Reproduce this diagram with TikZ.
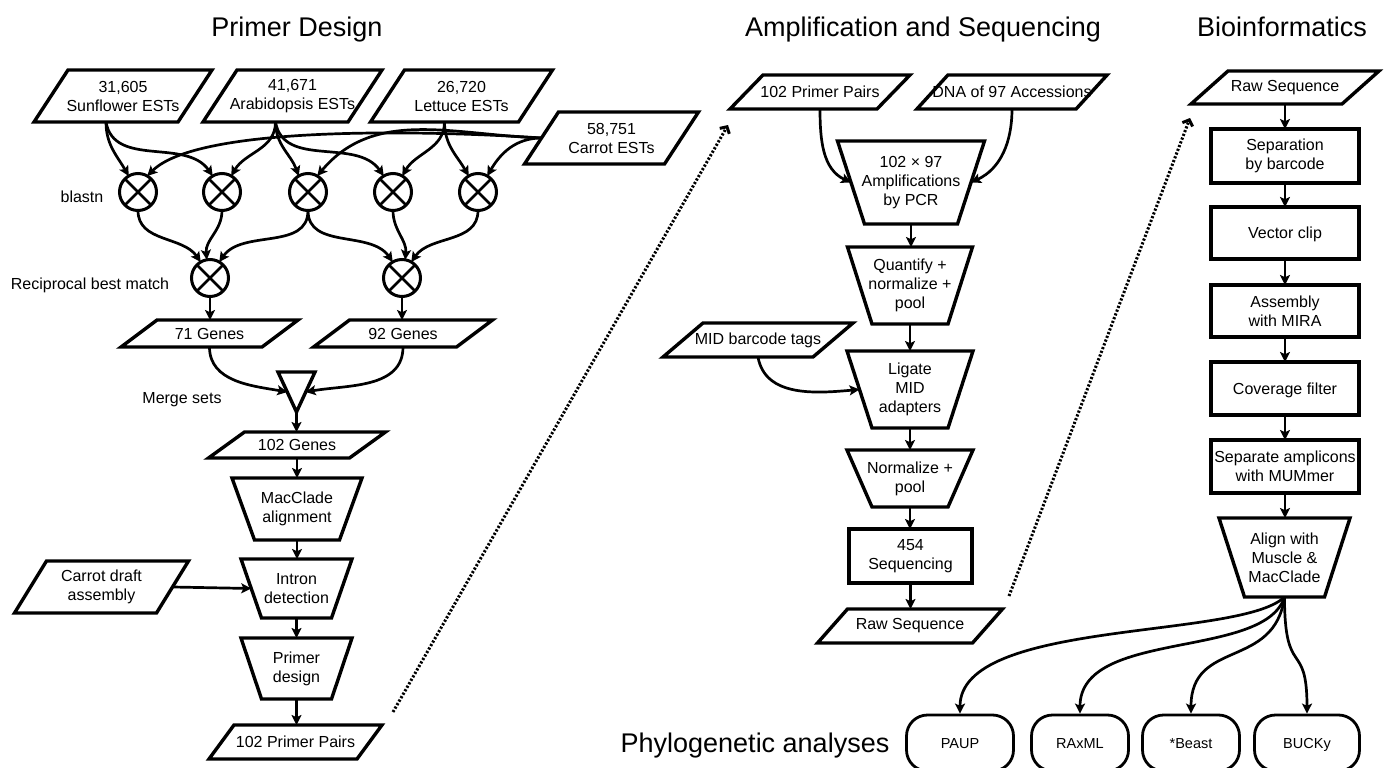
\documentclass[tikz,border=0pt]{standalone}
\usepackage{fontspec}
\setmainfont{Liberation Sans}
\usetikzlibrary{arrows.meta,shapes.misc,calc}
\newcommand\Para[7]{%
  \node[txt,minimum width=#4pt,minimum height=#5pt] (#1) at (#2,-#3) {#7};
  \draw[bx] ([xshift=#6pt/2]#1.north west) -- ([xshift=#6pt/2]#1.north east) -- ([xshift=-#6pt/2]#1.south east) -- ([xshift=-#6pt/2]#1.south west) -- cycle;
  \coordinate (#1-t) at ([xshift=#6pt/2]#1.north);
  \coordinate (#1-b) at ([xshift=-#6pt/2]#1.south);
}
\newcommand\Trap[7]{%
  \pgfmathsetmacro\trapd{(#4-#5)/4}%
  \node[txt,minimum width={(#4+#5)/2},minimum height=#6pt] (#1) at (#2,-#3) {#7};
  \draw[bx] ([xshift=-\trapd pt]#1.north west) -- ([xshift=\trapd pt]#1.north east) -- ([xshift=-\trapd pt]#1.south east) -- ([xshift=\trapd pt]#1.south west) -- cycle;
}
\begin{document}
\begin{tikzpicture}[x=1pt,y=1pt,
  txt/.style={font=\fontsize{16}{19}\selectfont, align=center, inner sep=0pt, outer sep=0pt},
  sl/.style={text height=11.6pt, text depth=0pt},
  bx/.style={line width=3.4pt, line join=miter, draw=black},
  ln/.style={line width=2.7pt, -{Stealth[length=10pt,width=10pt,inset=2.2pt]}},
  dot/.style={line width=3pt, dash pattern=on 2.2pt off 1.8pt, -{Straight Barb[length=5pt,width=11pt]}},
  rbox/.style={txt, bx, minimum width=148pt, minimum height=54pt},
  xcirc/.style={circle, draw, line width=3pt, minimum size=37pt, inner sep=0pt, outer sep=0pt,
    path picture={\draw[line width=2.8pt] (path picture bounding box.north west) -- (path picture bounding box.south east) (path picture bounding box.south west) -- (path picture bounding box.north east);}},
  pill/.style={rectangle, rounded corners=21pt, draw, line width=2.8pt, minimum height=56pt, font=\fontsize{14.5}{17}\selectfont, inner sep=0pt, text height=10.5pt, text depth=0pt},
  ttl/.style={font=\fontsize{27}{32}\selectfont, inner sep=0pt, anchor=base},
  lbl/.style={font=\fontsize{16}{19}\selectfont, inner sep=0pt, anchor=base}
]
\useasboundingbox (0,0) rectangle (1385,-768);
% titles
\node[ttl] (t1) at (297,-37) {Primer Design};
\node[ttl] (t2) at (923,-37) {Amplification and Sequencing};
\node[ttl] (t3) at (1282,-37) {Bioinformatics};
% ---------- Primer design ----------
\Para{sun}{123}{96}{144}{52}{34}{31,605\\Sunflower ESTs}
\Para{ara}{292.5}{96}{145}{52}{34}{41,671\\Arabidopsis ESTs}
\Para{let}{461.5}{96}{148}{52}{34}{26,720\\Lettuce ESTs}
\Para{car}{611.5}{138}{140}{52}{34}{58,751\\Carrot ESTs}
\node[xcirc] (c1) at (138,-192) {};
\node[xcirc] (c2) at (222,-192) {};
\node[xcirc] (c3) at (308,-192) {};
\node[xcirc] (c4) at (393,-192) {};
\node[xcirc] (c5) at (478,-192) {};
\node[xcirc] (r1) at (210,-278) {};
\node[xcirc] (r2) at (402,-278) {};
\node[lbl] (lb1) at (82,-202) {blastn};
\node[lbl] (lb2) at (90,-289) {Reciprocal best match};
\node[lbl] (lb3) at (182,-403) {Merge sets};
\Para{g71}{209.5}{333.5}{141}{27}{36}{71 Genes}
\Para{g92}{403}{333.5}{143}{27}{36}{92 Genes}
\node[minimum width=37pt, minimum height=40pt, inner sep=0pt, outer sep=0pt] (mg) at (296.5,-392) {};
\draw[bx] (mg.north west) -- (mg.north east) -- (mg.south) -- cycle;
\Para{g102}{297}{445}{141}{26}{36}{102 Genes}
\Trap{mac}{297}{509}{130}{85}{62}{MacClade\\alignment}
\Trap{intr}{296.5}{588.5}{111}{70}{59}{Intron\\detection}
\Trap{prd}{296.5}{668.5}{111}{70}{61}{Primer\\design}
\Para{pp1}{295.5}{742}{148}{34}{25}{102 Primer Pairs}
\Para{cda}{101.5}{587}{142}{52}{32}{Carrot draft\\assembly}
% connectors
\draw[ln] (sun-b) to[out=-90,in=120] (c1.120);
\draw[ln] (sun-b) to[out=-80,in=125] (c2.120);
\draw[ln] (ara-b) to[out=-90,in=60] (c2.60);
\draw[ln] (ara-b) to[out=-90,in=110] (c3.120);
\draw[ln] (ara-b) to[out=-80,in=125] (c4.120);
\draw[ln] (let-b) to[out=-90,in=60] (c4.60);
\draw[ln] (let-b) to[out=-90,in=120] (c5.120);
\draw[ln] (car.west) to[out=180,in=60] (c5.60);
\draw[ln] (car.west) to[out=178,in=50] (c3.60);
\draw[ln] (car.west) to[out=176,in=45,looseness=0.5] (c1.60);
\draw[ln] (c1.south) to[out=-90,in=125] (r1.120);
\draw[ln] (c2.south) to[out=-90,in=95] (r1.100);
\draw[ln] (c3.south) to[out=-90,in=55] (r1.60);
\draw[ln] (c3.south) to[out=-90,in=125] (r2.120);
\draw[ln] (c4.south) to[out=-90,in=85] (r2.80);
\draw[ln] (c5.south) to[out=-90,in=55] (r2.60);
\draw[ln] (r1.south) -- (r1.south |- g71.north);
\draw[ln] (r2.south) -- (r2.south |- g92.north);
\draw[ln] (g71.south) to[out=-90,in=170] ($(mg.west)!0.25!(mg.east)$);
\draw[ln] (g92.south) to[out=-90,in=10] ($(mg.east)!0.25!(mg.west)$);
\draw[ln] (mg.south) -- (mg.south |- g102.north);
\draw[ln] (g102.south) -- (g102.south |- mac.north);
\draw[ln] (mac.south) -- (mac.south |- intr.north);
\draw[ln] (intr.south) -- (intr.south |- prd.north);
\draw[ln] (prd.south) -- (prd.south |- pp1.north);
\draw[ln] (cda.east) -- (intr.west);
\coordinate (d1a) at (393,-712);
\coordinate (d1b) at (728,-125);
\draw[dot] (d1a) -- (d1b);
% ---------- Amplification ----------
\Para{pp2}{820}{92}{147}{34}{33}{102 Primer Pairs}
\Para{dna}{1012}{92}{159}{34}{31}{DNA of 97 Accessions}
\Trap{amp}{911}{182.5}{147}{93}{83}{102 × 97\\Amplifications\\by PCR}
\Trap{qnt}{910}{285.5}{125}{76}{77}{Quantify +\\normalize +\\pool}
\Para{mid}{758}{340}{150}{34}{40}{MID barcode tags}
\Trap{lig}{910}{389.5}{126}{76}{77}{Ligate\\MID\\adapters}
\Trap{nrm}{910}{478.5}{126}{76}{57}{Normalize +\\pool}
\node[rbox, minimum width=123pt] (seq) at (910.5,-556) {454\\Sequencing};
\Para{raw2}{910}{626}{155}{34}{30}{Raw Sequence}
\draw[ln] (pp2.south) to[out=-90,in=155] (amp.west);
\draw[ln] (dna.south) to[out=-90,in=25] (amp.east);
\draw[ln] (amp.south) -- (amp.south |- qnt.north);
\draw[ln] (qnt.south) -- (qnt.south |- lig.north);
\draw[ln] (mid.south) to[out=-80,in=185] (lig.west);
\draw[ln] (lig.south) -- (lig.south |- nrm.north);
\draw[ln] (nrm.south) -- (nrm.south |- seq.north);
\draw[ln] (seq.south) -- (seq.south |- raw2.north);
\coordinate (d2a) at (1009,-596);
\coordinate (d2b) at (1190,-118);
\draw[dot] (d2a) -- (d2b);
% ---------- Bioinformatics ----------
\Para{raw3}{1285}{87.5}{151}{33}{37}{Raw Sequence}
\node[rbox] (sep) at (1285,-156) {Separation\\by barcode};
\node[rbox, sl, minimum height=52pt] (vec) at (1285,-233) {Vector clip};
\node[rbox, minimum height=52pt] (asm) at (1285,-311) {Assembly\\with MIRA};
\node[rbox, sl, minimum height=53pt] (cov) at (1285,-388.5) {Coverage filter};
\node[rbox, minimum height=53pt] (sam) at (1285,-466.5) {Separate amplicons\\with MUMmer};
\Trap{aln}{1284.5}{557.5}{131}{80}{79}{Align with\\Muscle \&\\MacClade}
\draw[ln] (raw3.south) -- (sep.north);
\draw[ln] (sep.south) -- (vec.north);
\draw[ln] (vec.south) -- (asm.north);
\draw[ln] (asm.south) -- (cov.north);
\draw[ln] (cov.south) -- (sam.north);
\draw[ln] (sam.south) -- (sam.south |- aln.north);
% ---------- Phylogenetic analyses ----------
\node[ttl] (phy) at (755,-752) {Phylogenetic analyses};
\node[pill, minimum width=107pt] (paup) at (960,-743) {PAUP};
\node[pill, minimum width=97pt] (rax) at (1080,-743) {RAxML};
\node[pill, minimum width=97pt] (bst) at (1191,-743) {*Beast};
\node[pill, minimum width=105pt] (bck) at (1307,-743) {BUCKy};
\draw[ln] (aln.south) .. controls +(-45,-43) and +(0,95) .. (paup.north);
\draw[ln] (aln.south) .. controls +(-20,-63) and +(0,85) .. (rax.north);
\draw[ln] (aln.south) .. controls +(-10,-73) and +(0,75) .. (bst.north);
\draw[ln] (aln.south) .. controls +(0,-83) and +(0,75) .. (bck.north);
\end{tikzpicture}
\end{document}
